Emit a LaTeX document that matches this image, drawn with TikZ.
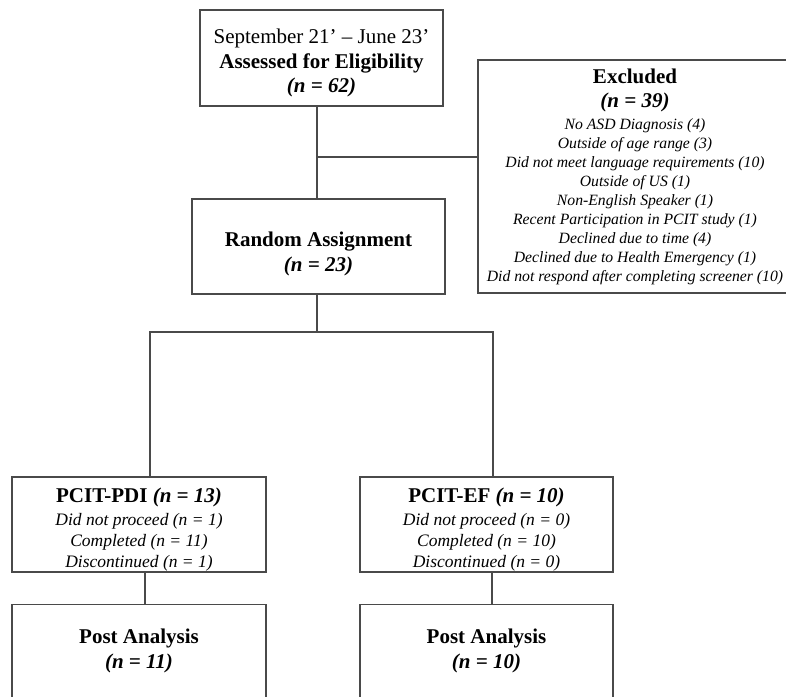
\documentclass[tikz,border=0pt]{standalone}
\usepackage{fontspec}
\setmainfont{Liberation Serif}
\usetikzlibrary{positioning}

\definecolor{linegray}{HTML}{4A4A4A}
% strut that pushes a box's text a little lower
\newcommand{\toppad}[1]{\rule{0pt}{#1}}

\begin{document}
\begin{tikzpicture}[
        x=1pt, y=-1pt,
        box/.style={rectangle, draw=linegray, line width=1.3pt, align=center, inner sep=0pt},
        bigtext/.style={font=\fontsize{21}{24.5}\selectfont},
        listtext/.style={font=\fontsize{17.5}{21}\selectfont\itshape},
        excltext/.style={font=\fontsize{15.7}{18.9}\selectfont\itshape},
        link/.style={draw=linegray, line width=1.3pt}
    ]
        \useasboundingbox (0,0) rectangle (786,696);

        % Boxes
        \node[box, bigtext, minimum width=243pt, minimum height=96pt] (assess) at (321.5,58)
            {\toppad{25pt}September 21’ – June 23’\\ \textbf{Assessed for Eligibility}\\ \textbf{\textit{(n = 62)}}};
        \node[box, excltext, minimum width=314pt, minimum height=233pt] (excl) at (635,176.5)
            {{\fontsize{21}{24}\selectfont\bfseries\upshape Excluded}\\[5pt]
             {\fontsize{21}{24}\selectfont\bfseries (n = 39)}\\[4pt]
             No ASD Diagnosis (4)\\
             Outside of age range (3)\\
             Did not meet language requirements (10)\\
             Outside of US (1)\\
             Non-English Speaker (1)\\
             Recent Participation in PCIT study (1)\\
             Declined due to time (4)\\
             Declined due to Health Emergency (1)\\
             Did not respond after completing screener (10)};
        \node[box, bigtext, minimum width=253pt, minimum height=95pt] (rand) at (318.5,246.5)
            {\toppad{29pt}\textbf{Random Assignment}\\ \textbf{\textit{(n = 23)}}};
        \node[box, listtext, minimum width=254pt, minimum height=95pt] (pdi) at (139,524.5)
            {{\fontsize{21}{24}\selectfont\bfseries\upshape \toppad{25.5pt}PCIT-PDI \textit{(n = 13)}}\\[2pt]
             Did not proceed (n = 1)\\
             Completed (n = 11)\\
             Discontinued (n = 1)};
        \node[box, listtext, minimum width=253pt, minimum height=95pt] (ef) at (486.5,524.5)
            {{\fontsize{21}{24}\selectfont\bfseries\upshape \toppad{25.5pt}PCIT-EF \textit{(n = 10)}}\\[2pt]
             Did not proceed (n = 0)\\
             Completed (n = 10)\\
             Discontinued (n = 0)};
        \node[box, bigtext, minimum width=254pt, minimum height=93pt] (post1) at (139,651)
            {\textbf{Post Analysis}\\ \textbf{\textit{(n = 11)}}};
        \node[box, bigtext, minimum width=253pt, minimum height=93pt] (post2) at (486.5,651)
            {\textbf{Post Analysis}\\ \textbf{\textit{(n = 10)}}};

        % Connectors
        \coordinate (junc) at (317,157);
        \coordinate (splitL) at (150,332);
        \coordinate (splitR) at (493,332);
        \draw[link] (assess.south -| junc) -- (rand.north -| junc);
        \draw[link] (junc) -- (excl.west |- junc);
        \draw[link] (rand.south -| junc) -- (splitL -| junc);
        \draw[link] (pdi.north -| splitL) -- (splitL) -- (splitR) -- (ef.north -| splitR);
        \draw[link] ([xshift=6pt]pdi.south) -- ([xshift=6pt]post1.north);
        \draw[link] ([xshift=5.5pt]ef.south) -- ([xshift=5.5pt]post2.north);
    \end{tikzpicture}
\end{document}
